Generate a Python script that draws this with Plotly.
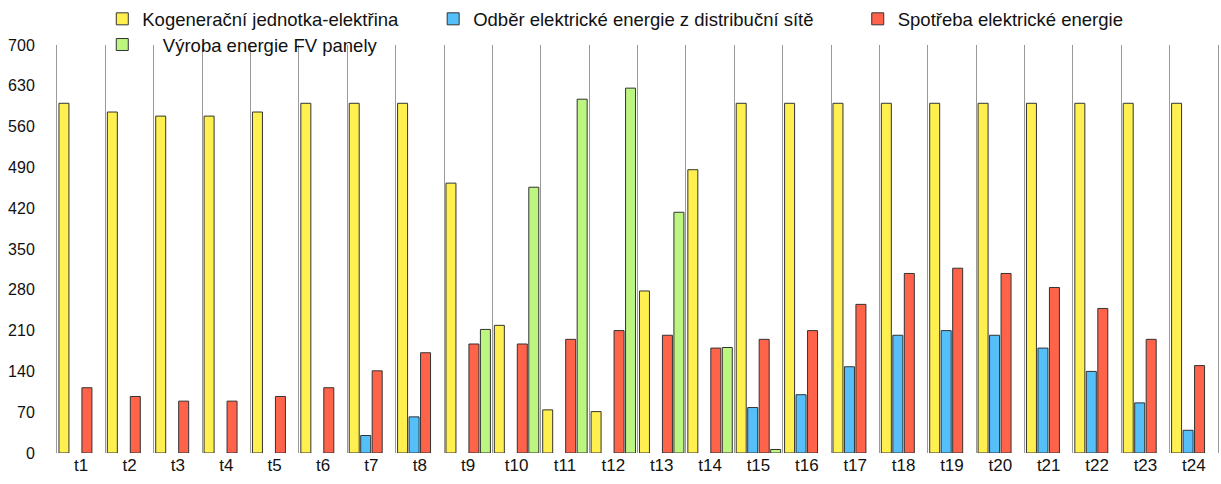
import plotly.graph_objects as go

categories = [f"t{i}" for i in range(1, 25)]

kogenerace = [600, 585, 578, 578, 585, 600, 600, 600, 463, 219, 74, 71, 278, 486,
              600, 600, 600, 600, 600, 600, 600, 600, 600, 600]
odber = [0, 0, 0, 0, 0, 0, 30, 62, 0, 0, 0, 0, 0, 0,
         78, 100, 148, 202, 210, 202, 180, 140, 86, 39]
spotreba = [112, 97, 89, 89, 97, 112, 141, 172, 187, 187, 195, 210, 202, 180,
            195, 210, 255, 308, 317, 308, 284, 248, 195, 150]
vyroba_fv = [0, 0, 0, 0, 0, 0, 0, 0, 212, 456, 607, 626, 413, 181,
             6, 0, 0, 0, 0, 0, 0, 0, 0, 0]

names = ["Kogenerační jednotka-elektřina",
         "Odběr elektrické energie z distribuční sítě",
         "Spotřeba elektrické energie",
         "\u00a0\u00a0\u00a0\u00a0Výroba energie FV panely"]
colors = ["#fff050", "#55bffa", "#ff634a", "#bcf580"]
series = [kogenerace, odber, spotreba, vyroba_fv]
legends = ["legend", "legend2", "legend3", "legend4"]

fig = go.Figure()
for name, col, vals, lg in zip(names, colors, series, legends):
    fig.add_trace(go.Bar(
        x=categories, y=[v if v else None for v in vals], name=name,
        marker=dict(color=col, line=dict(color="#333333", width=1)),
        legend=lg, showlegend=True,
    ))

font = "Liberation Sans, Arial, Helvetica, sans-serif"
leg_common = dict(orientation="h", xanchor="left", yanchor="middle",
                  font=dict(family=font, size=18.5, color="#111111"),
                  bgcolor="rgba(0,0,0,0)")

fig.update_layout(
    width=1221, height=484,
    showlegend=True,
    margin=dict(l=57, r=3, t=45, b=31, autoexpand=False),
    paper_bgcolor="white", plot_bgcolor="white",
    barmode="group", bargap=0.05, bargroupgap=0.13,
    font=dict(family=font, color="#111111"),
    legend=dict(x=0.039, y=1.063, **leg_common),
    legend2=dict(x=0.324, y=1.063, **leg_common),
    legend3=dict(x=0.6897, y=1.063, **leg_common),
    legend4=dict(x=0.039, y=1.0, **leg_common),
    xaxis=dict(tickson="boundaries", showgrid=True, gridcolor="#9a9a9a", gridwidth=1,
               ticks="", showline=False, zeroline=False,
               tickfont=dict(size=17, family=font, color="#111111")),
    yaxis=dict(range=[0, 700], dtick=70, tick0=0, showgrid=False, zeroline=False,
               showline=True, mirror=True, linecolor="#9a9a9a", linewidth=1,
               ticks="", ticklabelstandoff=18,
               tickfont=dict(size=16, family=font, color="#111111")),
)

fig.write_html("out.html", config={"displayModeBar": False},
               post_script="document.body.style.margin='0';document.body.style.padding='0';")
